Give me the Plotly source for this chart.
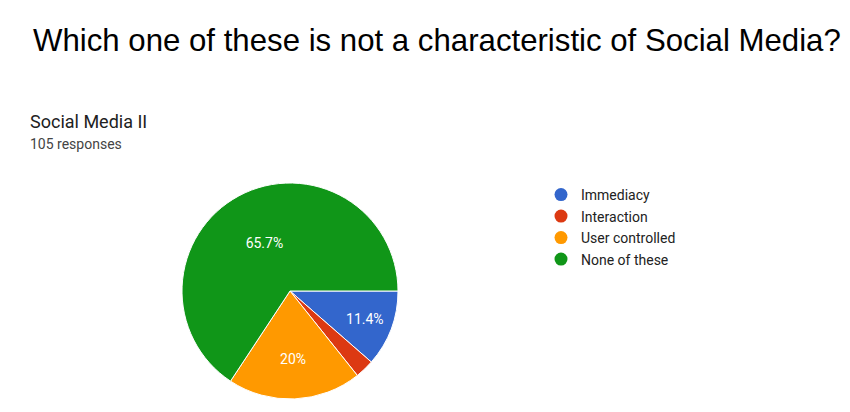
import plotly.graph_objects as go

categories = ["Immediacy", "Interaction", "User controlled", "None of these"]
counts = [12, 3, 21, 69]
colors = ["#3366cc", "#dc3912", "#ff9900", "#109618"]
title_text = "Which one of these is not a characteristic of Social Media?"
chart_title = "Social Media II"
responses_text = "105 responses"

total = sum(counts)
labels_txt = []
for c in counts:
    p = round(c / total * 100, 1)
    labels_txt.append("" if p < 5 else f"{p:g}%")

W, H = 850, 412
OFF = 8  # page body margin
cx, cy, r = 290 - OFF, 291 - OFF, 108

fig = go.Figure()
fig.add_trace(go.Pie(
    labels=categories, values=counts, text=labels_txt,
    textinfo="text", textposition="inside", insidetextorientation="horizontal",
    textfont=dict(family="Roboto, Arial, sans-serif", size=14, color="white"),
    marker=dict(colors=colors, line=dict(color="white", width=1)),
    sort=False, direction="clockwise", rotation=90,
    showlegend=False, hoverinfo="label+percent",
    domain=dict(x=[(cx - r) / W, (cx + r) / W], y=[(H - cy - r) / H, (H - cy + r) / H]),
))
for i, (name, col) in enumerate(zip(categories, colors)):
    fig.add_trace(go.Scatter(
        x=[None], y=[None], mode="markers", name=name, legendgroup=f"g{i}",
        marker=dict(symbol="circle", size=13, color=col), showlegend=True,
    ))

fig.update_layout(
    width=W, height=H, margin=dict(l=0, r=0, t=0, b=0),
    paper_bgcolor="white", plot_bgcolor="white",
    xaxis=dict(visible=False), yaxis=dict(visible=False),
    legend=dict(x=(553 - 12 - OFF) / W, y=1 - (183 - 4 - OFF) / H, xanchor="left", yanchor="top",
                font=dict(family="Roboto, Arial, sans-serif", size=14, color="#222222"),
                tracegroupgap=0.3, itemwidth=30, bgcolor="rgba(0,0,0,0)"),
    annotations=[
        dict(text=title_text, x=(437 - OFF) / W, y=1 - (41 - OFF) / H, xref="paper", yref="paper",
             xanchor="center", yanchor="middle", showarrow=False,
             font=dict(family="Liberation Sans, Arial, sans-serif", size=31.2, color="black")),
        dict(text=chart_title, x=(28 - OFF) / W, y=1 - (121 - OFF) / H, xref="paper", yref="paper",
             xanchor="left", yanchor="middle", showarrow=False,
             font=dict(family="Roboto, Arial, sans-serif", size=18, color="#212121")),
        dict(text=responses_text, x=(28 - OFF) / W, y=1 - (144 - OFF) / H, xref="paper", yref="paper",
             xanchor="left", yanchor="middle", showarrow=False,
             font=dict(family="Roboto, Arial, sans-serif", size=14, color="#444444")),
    ],
)
fig.write_html("out.html")
